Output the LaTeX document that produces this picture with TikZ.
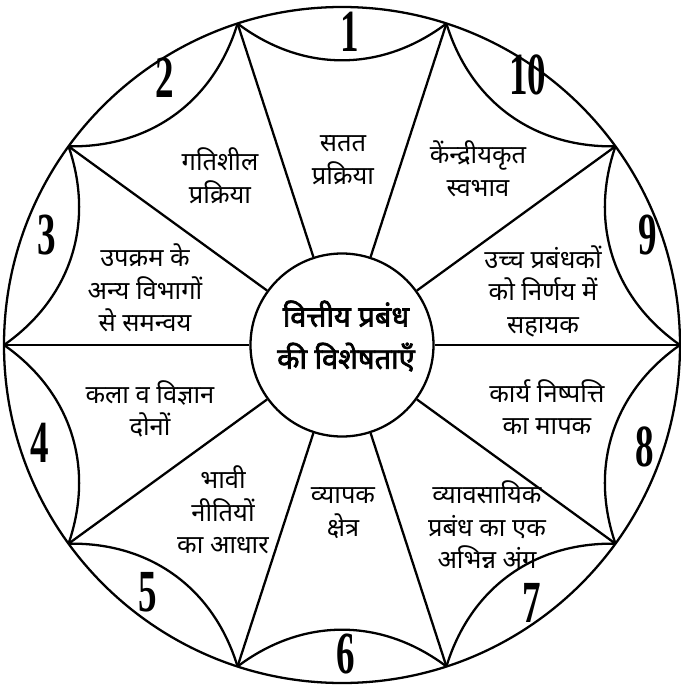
\documentclass[tikz,border=0pt]{standalone}
\usepackage{fontspec}
\newfontfamily\hindi[Script=Devanagari]{Noto Sans}
\newfontfamily\hindibf[Script=Devanagari,FakeBold=2.5]{Noto Sans}
\newfontfamily\numfont{Liberation Serif}
\newcommand{\cnum}[1]{\scalebox{0.62}[1]{#1}}
\tikzset{
  lbl/.style={font=\hindi\fontsize{14.5}{18.5}\selectfont,align=center},
  num/.style={font=\numfont\bfseries\fontsize{34}{34}\selectfont,inner sep=0pt}
}

\begin{document}
\begin{tikzpicture}[line width=1.3pt]
  \useasboundingbox (-6.84,-6.86) rectangle (6.78,6.90);
  \draw (0,0) circle (6.76);
  \node[circle,draw,minimum size=3.66cm,inner sep=0pt] (c) at (0,0) {};
  \node[align=center,font=\hindibf\fontsize{16.5}{24}\selectfont] (title) at (0.08,0.18) {वित्तीय प्रबंध\\की विशेषताएँ};
  \foreach \a [count=\i from 0] in {0,36,...,324}
    {
      \coordinate (p\i) at (\a:6.76);
      \draw (c.\a) -- (p\i);
    }
  \foreach \i [evaluate=\i as \j using {int(mod(\i+1,10))}] in {0,...,9}
    \draw (p\i) to[bend left=37] (p\j);
  \node[lbl] (t1) at (0.02,3.70) {सतत\\प्रक्रिया};
  \node[lbl] (t2) at (-2.44,3.38) {गतिशील\\प्रक्रिया};
  \node[lbl] (t3) at (-3.94,1.14) {उपक्रम के\\अन्य विभागों\\से समन्वय};
  \node[lbl] (t4) at (-3.84,-1.28) {कला व विज्ञान\\दोनों};
  \node[lbl] (t5) at (-2.38,-3.30) {भावी\\नीतियों\\का आधार};
  \node[lbl] (t6) at (0.02,-3.36) {व्यापक\\क्षेत्र};
  \node[lbl] (t7) at (2.90,-3.60) {व्यावसायिक\\प्रबंध का एक\\अभिन्न अंग};
  \node[lbl] (t8) at (4.10,-1.24) {कार्य निष्पत्ति\\का मापक};
  \node[lbl] (t9) at (4.02,1.08) {उच्च प्रबंधकों\\को निर्णय में\\सहायक};
  \node[lbl] (t10) at (2.72,3.52) {केंन्द्रीयकृत\\स्वभाव};
  \foreach \n/\x/\y in {1/0.16/6.26,2/-3.54/5.34,3/-5.90/2.20,4/-6.04/-1.96,5/-3.88/-4.94,
                        6/0.08/-6.18,7/3.80/-5.16,8/6.06/-2.04,9/6.12/2.20,10/3.72/5.40}
    \node[num] (n\n) at (\x,\y) {\cnum{\n}};
\end{tikzpicture}
\end{document}
